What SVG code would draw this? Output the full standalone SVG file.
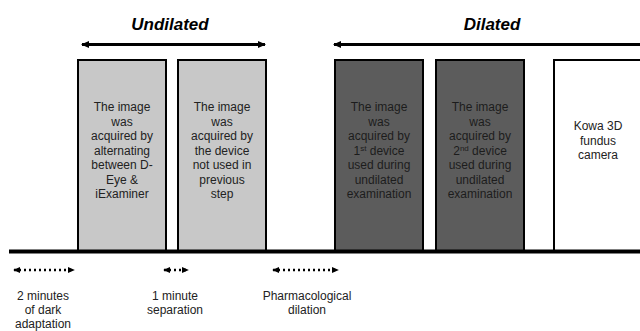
<svg xmlns="http://www.w3.org/2000/svg" width="640" height="331" viewBox="0 0 640 331">
<style>
text{font-family:"Liberation Sans",Arial,sans-serif;font-size:12px;text-anchor:middle}
.h{font-size:17px;font-weight:bold;font-style:italic;fill:#000}
.light rect{fill:#c8c8c8;stroke:#000;stroke-width:2}
.dark rect{fill:#5c5c5c;stroke:#000;stroke-width:2}
.white rect{fill:#fff;stroke:#000;stroke-width:2}
.light text,.white text{fill:#222}
.dark text{fill:#1c1c1c}
.lbl{fill:#222}
.solid{stroke:#000;stroke-width:3;fill:none}
.dot{stroke:#000;stroke-width:2.5;stroke-dasharray:2 3;fill:none}
</style>
<defs>
<marker id="ah" viewBox="0 0 8 8" refX="7" refY="4" markerWidth="8" markerHeight="8" markerUnits="userSpaceOnUse" orient="auto-start-reverse">
<path d="M0,0.5 L8,4 L0,7.5 Z" fill="#000"/>
</marker>
<marker id="ahs" viewBox="0 0 8 8" refX="7" refY="4" markerWidth="7" markerHeight="7" markerUnits="userSpaceOnUse" orient="auto-start-reverse">
<path d="M0,0.5 L8,4 L0,7.5 Z" fill="#000"/>
</marker>
</defs>
<rect width="640" height="331" fill="#fff"/>
<text class="h" x="170" y="30">Undilated</text>
<text class="h" x="492" y="30">Dilated</text>
<g id="connectors">
<line class="solid" x1="82" y1="44.5" x2="265" y2="44.5" marker-start="url(#ah)" marker-end="url(#ah)"/>
<line class="solid" x1="334" y1="44.5" x2="640" y2="44.5" marker-start="url(#ah)"/>
<line class="dot" x1="14" y1="270" x2="74" y2="270" marker-start="url(#ahs)" marker-end="url(#ahs)"/>
<line class="dot" x1="164" y1="270" x2="188" y2="270" marker-start="url(#ahs)" marker-end="url(#ahs)"/>
<line class="dot" x1="273" y1="270" x2="338" y2="270" marker-start="url(#ahs)" marker-end="url(#ahs)"/>
</g>
<g id="box1" class="light">
<rect x="78" y="60" width="88" height="192"/>
<text x="122" y="111">The image</text>
<text x="122" y="125.5">was</text>
<text x="122" y="140">acquired by</text>
<text x="122" y="154.5">alternating</text>
<text x="122" y="169">between D-</text>
<text x="122" y="183.5">Eye &amp;</text>
<text x="122" y="198">iExaminer</text>
</g>
<g id="box2" class="light">
<rect x="178" y="60" width="88" height="192"/>
<text x="222" y="111">The image</text>
<text x="222" y="125.5">was</text>
<text x="222" y="140">acquired by</text>
<text x="222" y="154.5">the device</text>
<text x="222" y="169">not used in</text>
<text x="222" y="183.5">previous</text>
<text x="222" y="198">step</text>
</g>
<g id="box3" class="dark">
<rect x="335" y="60" width="88" height="192"/>
<text x="379" y="111">The image</text>
<text x="379" y="125.5">was</text>
<text x="379" y="140">acquired by</text>
<text x="379" y="154.5">1<tspan font-size="8" dy="-4">st</tspan><tspan dy="4"> device</tspan></text>
<text x="379" y="169">used during</text>
<text x="379" y="183.5">undilated</text>
<text x="379" y="198">examination</text>
</g>
<g id="box4" class="dark">
<rect x="436" y="60" width="88" height="192"/>
<text x="480" y="111">The image</text>
<text x="480" y="125.5">was</text>
<text x="480" y="140">acquired by</text>
<text x="480" y="154.5">2<tspan font-size="8" dy="-4">nd</tspan><tspan dy="4"> device</tspan></text>
<text x="480" y="169">used during</text>
<text x="480" y="183.5">undilated</text>
<text x="480" y="198">examination</text>
</g>
<g id="box5" class="white">
<rect x="554" y="60" width="95" height="192"/>
<text x="598" y="130">Kowa 3D</text>
<text x="598" y="144.5">fundus</text>
<text x="598" y="159">camera</text>
</g>
<line x1="9" y1="251.5" x2="640" y2="251.5" stroke="#000" stroke-width="4"/>
<g id="label1" class="lbl">
<text x="43" y="300">2 minutes</text>
<text x="43" y="314">of dark</text>
<text x="43" y="328">adaptation</text>
</g>
<g id="label2" class="lbl">
<text x="175" y="300">1 minute</text>
<text x="175" y="314">separation</text>
</g>
<g id="label3" class="lbl">
<text x="307" y="300">Pharmacological</text>
<text x="307" y="314">dilation</text>
</g>
</svg>
